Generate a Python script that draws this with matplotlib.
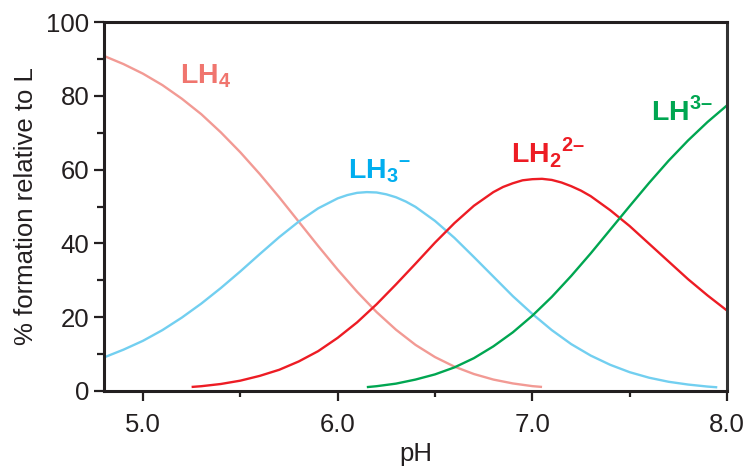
import matplotlib
matplotlib.use("Agg")
import matplotlib.pyplot as plt
from matplotlib.ticker import MultipleLocator, FixedLocator

plt.rcParams['font.family'] = ['Liberation Sans', 'DejaVu Sans']
plt.rcParams['mathtext.fontset'] = 'custom'
plt.rcParams['mathtext.rm'] = 'Liberation Sans'
plt.rcParams['mathtext.bf'] = 'Liberation Sans:bold'

# pH grid and read values (% formation)
ph_lh4 = [4.8, 4.9, 5.0, 5.1, 5.2, 5.3, 5.4, 5.5, 5.6, 5.7, 5.8, 5.9, 6.0,
          6.1, 6.2, 6.3, 6.4, 6.5, 6.6, 6.7, 6.8, 6.9, 7.0, 7.05]
lh4 = [90.8, 88.6, 86.0, 82.9, 79.2, 75.0, 70.1, 64.7, 58.8, 52.5, 45.9, 39.3, 32.9,
       26.9, 21.4, 16.6, 12.5, 9.2, 6.6, 4.6, 3.1, 2.05, 1.32, 1.1]

ph_lh3 = [4.8, 4.9, 5.0, 5.1, 5.2, 5.3, 5.4, 5.5, 5.6, 5.7, 5.8, 5.9, 6.0, 6.05,
          6.1, 6.15, 6.2, 6.25, 6.3, 6.35, 6.4, 6.5, 6.6, 6.7, 6.8, 6.9, 7.0, 7.1,
          7.2, 7.3, 7.4, 7.5, 7.6, 7.7, 7.8, 7.9, 7.95]
lh3 = [9.1, 11.2, 13.6, 16.5, 19.9, 23.7, 27.9, 32.4, 37.1, 41.7, 45.9, 49.5, 52.2, 53.1,
       53.7, 53.9, 53.8, 53.3, 52.5, 51.35, 49.9, 46.1, 41.5, 36.3, 31.0, 25.7, 20.9, 16.5,
       12.7, 9.6, 7.1, 5.1, 3.6, 2.5, 1.75, 1.2, 1.0]

ph_lh2 = [5.25, 5.3, 5.4, 5.5, 5.6, 5.7, 5.8, 5.9, 6.0, 6.1, 6.2, 6.3, 6.4, 6.5,
          6.6, 6.7, 6.8, 6.85, 6.9, 6.95, 7.0, 7.05, 7.1, 7.15, 7.2, 7.25, 7.3,
          7.4, 7.5, 7.6, 7.7, 7.8, 7.9, 8.0]
lh2 = [1.1, 1.3, 1.9, 2.8, 4.1, 5.75, 8.0, 10.8, 14.4, 18.6, 23.5, 28.9, 34.5, 40.2,
       45.5, 50.2, 53.9, 55.3, 56.3, 57.1, 57.4, 57.5, 57.2, 56.5, 55.5, 54.3, 52.8,
       49.0, 44.7, 39.9, 35.1, 30.3, 25.9, 21.8]

ph_lh1 = [6.15, 6.2, 6.3, 6.4, 6.5, 6.6, 6.7, 6.8, 6.9, 7.0, 7.1, 7.2, 7.3, 7.4,
          7.5, 7.6, 7.7, 7.8, 7.9, 8.0]
lh1 = [1.05, 1.3, 2.0, 3.1, 4.5, 6.4, 8.9, 12.1, 15.9, 20.4, 25.5, 31.2, 37.3, 43.7,
       50.1, 56.4, 62.4, 67.9, 72.9, 77.4]

x_ticks = [5.0, 6.0, 7.0, 8.0]
x_ticklabels = ["5.0", "6.0", "7.0", "8.0"]

fig = plt.figure(figsize=(7.49, 4.68), dpi=100)
ax = fig.add_axes([104/749, 1-391/468, (727-104)/749, (391-22)/468])

kw = dict(lw=1.7, solid_joinstyle='round', solid_capstyle='butt')
ax.plot(ph_lh4, lh4, color='#F29A94', **kw)
ax.plot(ph_lh3, lh3, color='#72CFF0', **kw)
ax.plot(ph_lh2, lh2, color='#ED1C24', **kw)
ax.plot(ph_lh1, lh1, color='#00A651', **kw)

ax.set_xlim(4.8, 8.0)
ax.set_ylim(0, 100)
ax.xaxis.set_major_locator(FixedLocator(x_ticks))
ax.set_xticklabels(x_ticklabels)
ax.xaxis.set_minor_locator(FixedLocator([5.5, 6.5, 7.5]))
ax.yaxis.set_major_locator(MultipleLocator(20))
ax.yaxis.set_minor_locator(MultipleLocator(10))

ax.tick_params(axis='both', which='major', direction='out', width=1.6, labelsize=18.5,
               colors='#231F20')
ax.tick_params(axis='y', which='major', length=7.5, pad=3)
ax.tick_params(axis='x', which='major', length=7.5, pad=8)
ax.tick_params(axis='y', which='minor', length=5, width=1.6, color='#231F20')
ax.tick_params(axis='x', which='minor', length=4, width=1.6, color='#231F20')

for s in ['left', 'bottom', 'top']:
    ax.spines[s].set_linewidth(2.2)
    ax.spines[s].set_color('#231F20')
ax.spines['right'].set_linewidth(2.2)
ax.spines['right'].set_color('#333333')

ax.set_xlabel('pH', fontsize=18.5, color='#231F20', labelpad=4)
ax.set_ylabel('% formation relative to L', fontsize=18.5, color='#231F20', labelpad=6)

lab = dict(fontsize=20.5, ha='left', va='baseline')
ax.text(5.19, 83.5, r'$\mathbf{LH}_{\mathbf{4}}$', color='#F0756E', **lab)
ax.text(6.051, 57.7, r'$\mathbf{LH}_{\mathbf{3}}{}^{\mathbf{–}}$', color='#00AEEF', **lab)
ax.text(6.892, 61.8, r'$\mathbf{LH}_{\mathbf{2}}{}^{\mathbf{2–}}$', color='#ED1C24', **lab)
ax.text(7.61, 73.4, r'$\mathbf{LH}^{\mathbf{3–}}$', color='#00A651', **lab)

fig.savefig('out.png', dpi=100)
